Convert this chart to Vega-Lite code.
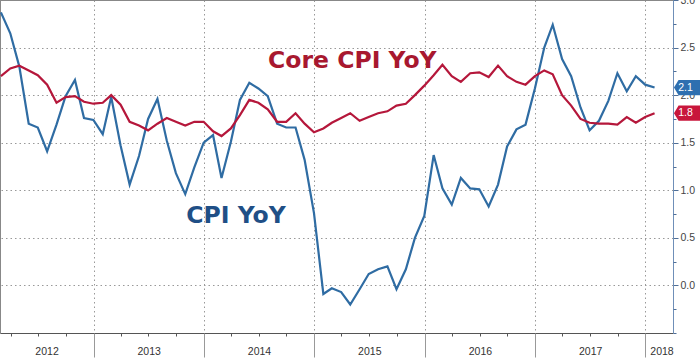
{
  "$schema": "https://vega.github.io/schema/vega-lite/v6.json",
  "autosize": {"type": "none"},
  "width": 673,
  "height": 333,
  "padding": {"left": 0, "top": 0, "right": 27, "bottom": 26},
  "background": "white",
  "config": {
    "view": {"stroke": null},
    "axis": {"labelFont": "Liberation Sans", "labelFontSize": 10.5, "labelColor": "#333333"}
  },
  "data": {
    "values": [
      {"date": "2012-02-29", "cpi": 2.87, "core": 2.20},
      {"date": "2012-03-31", "cpi": 2.65, "core": 2.28},
      {"date": "2012-04-30", "cpi": 2.30, "core": 2.31},
      {"date": "2012-05-31", "cpi": 1.70, "core": 2.26},
      {"date": "2012-06-30", "cpi": 1.66, "core": 2.21},
      {"date": "2012-07-31", "cpi": 1.41, "core": 2.11},
      {"date": "2012-08-31", "cpi": 1.69, "core": 1.92},
      {"date": "2012-09-30", "cpi": 1.99, "core": 1.98},
      {"date": "2012-10-31", "cpi": 2.16, "core": 1.99},
      {"date": "2012-11-30", "cpi": 1.76, "core": 1.93},
      {"date": "2012-12-31", "cpi": 1.74, "core": 1.91},
      {"date": "2013-01-31", "cpi": 1.59, "core": 1.92},
      {"date": "2013-02-28", "cpi": 1.98, "core": 2.00},
      {"date": "2013-03-31", "cpi": 1.47, "core": 1.90},
      {"date": "2013-04-30", "cpi": 1.06, "core": 1.72},
      {"date": "2013-05-31", "cpi": 1.36, "core": 1.68},
      {"date": "2013-06-30", "cpi": 1.75, "core": 1.63},
      {"date": "2013-07-31", "cpi": 1.96, "core": 1.70},
      {"date": "2013-08-31", "cpi": 1.52, "core": 1.76},
      {"date": "2013-09-30", "cpi": 1.18, "core": 1.72},
      {"date": "2013-10-31", "cpi": 0.96, "core": 1.68},
      {"date": "2013-11-30", "cpi": 1.24, "core": 1.72},
      {"date": "2013-12-31", "cpi": 1.50, "core": 1.72},
      {"date": "2014-01-31", "cpi": 1.58, "core": 1.62},
      {"date": "2014-02-28", "cpi": 1.13, "core": 1.57},
      {"date": "2014-03-31", "cpi": 1.51, "core": 1.65},
      {"date": "2014-04-30", "cpi": 1.95, "core": 1.79},
      {"date": "2014-05-31", "cpi": 2.13, "core": 1.95},
      {"date": "2014-06-30", "cpi": 2.07, "core": 1.92},
      {"date": "2014-07-31", "cpi": 1.99, "core": 1.85},
      {"date": "2014-08-31", "cpi": 1.70, "core": 1.72},
      {"date": "2014-09-30", "cpi": 1.66, "core": 1.72},
      {"date": "2014-10-31", "cpi": 1.66, "core": 1.81},
      {"date": "2014-11-30", "cpi": 1.32, "core": 1.70},
      {"date": "2014-12-31", "cpi": 0.76, "core": 1.61},
      {"date": "2015-01-31", "cpi": -0.09, "core": 1.65},
      {"date": "2015-02-28", "cpi": -0.03, "core": 1.71},
      {"date": "2015-03-31", "cpi": -0.07, "core": 1.76},
      {"date": "2015-04-30", "cpi": -0.20, "core": 1.81},
      {"date": "2015-05-31", "cpi": -0.04, "core": 1.73},
      {"date": "2015-06-30", "cpi": 0.12, "core": 1.77},
      {"date": "2015-07-31", "cpi": 0.17, "core": 1.81},
      {"date": "2015-08-31", "cpi": 0.20, "core": 1.83},
      {"date": "2015-09-30", "cpi": -0.04, "core": 1.89},
      {"date": "2015-10-31", "cpi": 0.17, "core": 1.91},
      {"date": "2015-11-30", "cpi": 0.50, "core": 2.00},
      {"date": "2015-12-31", "cpi": 0.73, "core": 2.10},
      {"date": "2016-01-31", "cpi": 1.37, "core": 2.21},
      {"date": "2016-02-29", "cpi": 1.02, "core": 2.32},
      {"date": "2016-03-31", "cpi": 0.85, "core": 2.20},
      {"date": "2016-04-30", "cpi": 1.13, "core": 2.14},
      {"date": "2016-05-31", "cpi": 1.02, "core": 2.23},
      {"date": "2016-06-30", "cpi": 1.01, "core": 2.24},
      {"date": "2016-07-31", "cpi": 0.83, "core": 2.19},
      {"date": "2016-08-31", "cpi": 1.06, "core": 2.31},
      {"date": "2016-09-30", "cpi": 1.46, "core": 2.20},
      {"date": "2016-10-31", "cpi": 1.64, "core": 2.14},
      {"date": "2016-11-30", "cpi": 1.69, "core": 2.11},
      {"date": "2016-12-31", "cpi": 2.07, "core": 2.20},
      {"date": "2017-01-31", "cpi": 2.50, "core": 2.26},
      {"date": "2017-02-28", "cpi": 2.74, "core": 2.22},
      {"date": "2017-03-31", "cpi": 2.38, "core": 2.00},
      {"date": "2017-04-30", "cpi": 2.20, "core": 1.89},
      {"date": "2017-05-31", "cpi": 1.87, "core": 1.75},
      {"date": "2017-06-30", "cpi": 1.63, "core": 1.71},
      {"date": "2017-07-31", "cpi": 1.73, "core": 1.70},
      {"date": "2017-08-31", "cpi": 1.94, "core": 1.70},
      {"date": "2017-09-30", "cpi": 2.23, "core": 1.69},
      {"date": "2017-10-31", "cpi": 2.04, "core": 1.77},
      {"date": "2017-11-30", "cpi": 2.20, "core": 1.71},
      {"date": "2017-12-31", "cpi": 2.11, "core": 1.77},
      {"date": "2018-01-31", "cpi": 2.08, "core": 1.81}
    ],
    "format": {"parse": {"date": "date"}}
  },
  "resolve": {"axis": {"x": "independent", "y": "independent"}},
  "layer": [
    {
      "mark": {"type": "line", "color": "#2f6ca3", "strokeWidth": 2.2, "strokeJoin": "miter"},
      "encoding": {
        "x": {
          "field": "date", "type": "temporal", "title": null,
          "scale": {"type": "utc", "domain": [{"year": 2012, "month": 2, "date": 26, "utc": true}, {"year": 2018, "month": 4, "date": 2, "utc": true}]},
          "axis": {
            "orient": "bottom", "labels": false, "grid": false, "domain": true, "domainColor": "#555555", "domainWidth": 1,
            "tickSize": 3, "tickColor": "#555555",
            "values": [
              {"year": 2012, "month": 4, "date": 1, "utc": true}, {"year": 2012, "month": 7, "date": 1, "utc": true}, {"year": 2012, "month": 10, "date": 1, "utc": true},
              {"year": 2013, "month": 1, "date": 1, "utc": true}, {"year": 2013, "month": 4, "date": 1, "utc": true}, {"year": 2013, "month": 7, "date": 1, "utc": true}, {"year": 2013, "month": 10, "date": 1, "utc": true},
              {"year": 2014, "month": 1, "date": 1, "utc": true}, {"year": 2014, "month": 4, "date": 1, "utc": true}, {"year": 2014, "month": 7, "date": 1, "utc": true}, {"year": 2014, "month": 10, "date": 1, "utc": true},
              {"year": 2015, "month": 1, "date": 1, "utc": true}, {"year": 2015, "month": 4, "date": 1, "utc": true}, {"year": 2015, "month": 7, "date": 1, "utc": true}, {"year": 2015, "month": 10, "date": 1, "utc": true},
              {"year": 2016, "month": 1, "date": 1, "utc": true}, {"year": 2016, "month": 4, "date": 1, "utc": true}, {"year": 2016, "month": 7, "date": 1, "utc": true}, {"year": 2016, "month": 10, "date": 1, "utc": true},
              {"year": 2017, "month": 1, "date": 1, "utc": true}, {"year": 2017, "month": 4, "date": 1, "utc": true}, {"year": 2017, "month": 7, "date": 1, "utc": true}, {"year": 2017, "month": 10, "date": 1, "utc": true},
              {"year": 2018, "month": 1, "date": 1, "utc": true}
            ]
          }
        },
        "y": {
          "field": "cpi", "type": "quantitative", "title": null,
          "scale": {"domain": [-0.5, 3.0], "nice": false, "zero": false},
          "axis": {
            "orient": "right", "values": [0, 0.5, 1.0, 1.5, 2.0, 2.5, 3.0], "format": ".1f",
            "domain": true, "domainColor": "#6f8fb8", "domainWidth": 1,
            "tickSize": 5, "tickColor": "#4f6f98", "labelPadding": 2, "labelFontSize": 10.5, "labelColor": "#444444",
            "grid": true, "gridDash": [1.5, 3], "gridColor": "#999999", "gridWidth": 1
          }
        }
      }
    },
    {
      "mark": {"type": "line", "color": "#b5173b", "strokeWidth": 2.2, "strokeJoin": "miter"},
      "encoding": {
        "x": {
          "field": "date", "type": "temporal", "title": null,
          "scale": {"type": "utc", "domain": [{"year": 2012, "month": 2, "date": 26, "utc": true}, {"year": 2018, "month": 4, "date": 2, "utc": true}]},
          "axis": {
            "orient": "bottom", "labels": false, "domain": false,
            "tickSize": 24, "tickColor": "#999999",
            "grid": true, "gridDash": [1.5, 3], "gridColor": "#999999", "gridWidth": 1,
            "values": [
              {"year": 2013, "month": 1, "date": 1, "utc": true}, {"year": 2014, "month": 1, "date": 1, "utc": true},
              {"year": 2015, "month": 1, "date": 1, "utc": true}, {"year": 2016, "month": 1, "date": 1, "utc": true},
              {"year": 2017, "month": 1, "date": 1, "utc": true}, {"year": 2018, "month": 1, "date": 1, "utc": true}
            ]
          }
        },
        "y": {
          "field": "core", "type": "quantitative", "title": null,
          "scale": {"domain": [-0.5, 3.0], "nice": false, "zero": false},
          "axis": {
            "orient": "right", "labels": false, "domain": false, "grid": false,
            "tickSize": 3, "tickColor": "#4f6f98",
            "values": [-0.5, -0.25, 0.25, 0.75, 1.25, 1.75, 2.25, 2.75]
          }
        }
      }
    },
    {
      "transform": [
        {"filter": "utcyear(datum.date) == 2018"},
        {"fold": ["cpi", "core"], "as": ["series", "value"]}
      ],
      "mark": {"type": "point", "filled": true, "opacity": 1, "size": 400, "shape": "M1.94,0 L2.4,-0.76 L4.6,-0.76 L4.6,0.76 L2.4,0.76 Z"},
      "encoding": {
        "x": {
          "field": "date", "type": "temporal", "title": null,
          "scale": {"type": "utc", "domain": [{"year": 2012, "month": 2, "date": 26, "utc": true}, {"year": 2018, "month": 4, "date": 2, "utc": true}]},
          "axis": {
            "orient": "bottom", "labels": true, "domain": false, "grid": false, "ticks": false, "tickSize": 0,
            "labelPadding": 13, "format": "%Y", "labelFontSize": 10.5, "labelColor": "#333333",
            "values": [
              {"year": 2012, "month": 7, "date": 29, "utc": true}, {"year": 2013, "month": 7, "date": 2, "utc": true},
              {"year": 2014, "month": 7, "date": 2, "utc": true}, {"year": 2015, "month": 7, "date": 2, "utc": true},
              {"year": 2016, "month": 7, "date": 2, "utc": true}, {"year": 2017, "month": 7, "date": 2, "utc": true},
              {"year": 2018, "month": 2, "date": 23, "utc": true}
            ]
          }
        },
        "y": {
          "field": "value", "type": "quantitative", "title": null,
          "scale": {"domain": [-0.5, 3.0], "nice": false, "zero": false},
          "axis": null
        },
        "color": {
          "field": "series", "type": "nominal", "legend": null,
          "scale": {"domain": ["cpi", "core"], "range": ["#2e6fb0", "#c8163b"]}
        }
      }
    },
    {
      "transform": [
        {"filter": "utcyear(datum.date) == 2018"},
        {"fold": ["cpi", "core"], "as": ["series", "value"]}
      ],
      "mark": {"type": "text", "dx": 31, "align": "center", "baseline": "middle", "font": "Liberation Sans", "fontSize": 10.5, "color": "white"},
      "encoding": {
        "x": {
          "field": "date", "type": "temporal", "title": null,
          "scale": {"type": "utc", "domain": [{"year": 2012, "month": 2, "date": 26, "utc": true}, {"year": 2018, "month": 4, "date": 2, "utc": true}]},
          "axis": null
        },
        "y": {
          "field": "value", "type": "quantitative", "title": null,
          "scale": {"domain": [-0.5, 3.0], "nice": false, "zero": false},
          "axis": null
        },
        "text": {"field": "value", "type": "quantitative", "format": ".1f"}
      }
    },
    {
      "data": {"values": [{"label": "Core CPI YoY"}]},
      "mark": {"type": "text", "align": "center", "baseline": "alphabetic", "font": "DejaVu Sans", "fontWeight": "bold", "fontSize": 23.5, "color": "#a8182f"},
      "encoding": {
        "x": {"datum": {"year": 2015, "month": 5, "date": 7, "utc": true}, "type": "temporal"},
        "y": {"datum": 2.285, "type": "quantitative"},
        "text": {"field": "label", "type": "nominal"}
      }
    },
    {
      "data": {"values": [{"label": "CPI YoY"}]},
      "mark": {"type": "text", "align": "center", "baseline": "alphabetic", "font": "DejaVu Sans", "fontWeight": "bold", "fontSize": 23.5, "color": "#1f4f86"},
      "encoding": {
        "x": {"datum": {"year": 2014, "month": 4, "date": 17, "utc": true}, "type": "temporal"},
        "y": {"datum": 0.653, "type": "quantitative"},
        "text": {"field": "label", "type": "nominal"}
      }
    }
  ]
}
